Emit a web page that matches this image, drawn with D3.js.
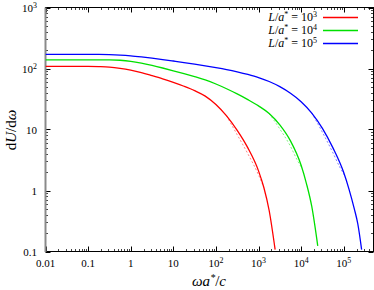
<!DOCTYPE html>
<html><head><meta charset="utf-8">
<script src="https://cdn.jsdelivr.net/npm/d3@7"></script>
<style>
body{margin:0;background:#fff}
svg{display:block}
text{font-family:"Liberation Serif","DejaVu Serif",serif;fill:#000}
</style>
</head><body>
<svg id="c" width="374" height="290"></svg>
<script>
// ---------- data ----------
const seriesExponents = ["3", "4", "5"];
const seriesColors = ["#ff0000", "#00e000", "#0000ff"];

const redOmega  = [0.01, 0.1, 0.178, 0.316, 0.562, 1, 1.78, 3.16, 5.62, 10, 17.8, 31.6, 56.2, 100, 178, 316, 562, 1000, 1334, 1778, 2455];
const redValues = [108, 108, 107.2, 105.4, 100.7, 94.0, 85.7, 76.4, 67.7, 59.3, 51.2, 43.4, 35.3, 25.7, 16.7, 9.66, 4.99, 2.10, 1.12, 0.47, 0.107];
const redDashOmega  = [178, 316, 562, 1000, 1250];
const redDashValues = [16.7, 8.2, 4.0, 1.8, 1.25];

const greenOmega  = [0.01, 0.1, 0.316, 0.562, 1, 1.78, 3.16, 5.62, 10, 17.8, 31.6, 56.2, 100, 178, 316, 562, 1000, 1778, 3162, 5623, 10000, 13335, 17783, 24547];
const greenValues = [139, 139, 139, 136.6, 131.2, 122.5, 112.3, 101.9, 91.8, 82.3, 73.4, 65.0, 55.7, 46.6, 38.3, 30.9, 24.4, 18.3, 11.9, 6.50, 2.59, 1.30, 0.547, 0.124];
const greenDashOmega  = [1778, 3162, 5623, 8000, 10500];
const greenDashValues = [18.3, 10.2, 5.3, 3.2, 2.3];

const blueOmega  = [0.01, 0.1, 0.178, 0.316, 0.562, 1, 1.78, 3.16, 5.62, 10, 17.8, 31.6, 56.2, 100, 178, 316, 562, 1000, 1778, 3162, 5623, 10000, 17783, 31623, 56234, 100000, 133352, 177828, 213796, 263027];
const blueValues = [170, 170, 170, 168.7, 165.8, 161.1, 154.7, 147.7, 140.3, 132.7, 125.3, 118.0, 110.8, 103.4, 95.9, 88.0, 79.8, 71.1, 61.2, 50.4, 39.3, 28.6, 18.6, 10.46, 4.95, 1.97, 1.046, 0.495, 0.285, 0.1076];
const blueDashOmega  = [17783, 31623, 56234, 80000, 105000];
const blueDashValues = [18.6, 9.0, 4.1, 2.45, 1.77];

const xTickValues = [0.01, 0.1, 1, 10, 100, 1000, 1e4, 1e5];
const xTickLabels = ["0.01", "0.1", "1", "10", "10^2", "10^3", "10^4", "10^5"];
const yTickValues = [0.1, 1, 10, 100, 1000];
const yTickLabels = ["0.1", "1", "10", "10^2", "10^3"];

const series = [
  {omega: redOmega, values: redValues, dOmega: redDashOmega, dValues: redDashValues},
  {omega: greenOmega, values: greenValues, dOmega: greenDashOmega, dValues: greenDashValues},
  {omega: blueOmega, values: blueValues, dOmega: blueDashOmega, dValues: blueDashValues}
];

// ---------- layout ----------
const L = 45.5, R = 373.5, T = 7.5, B = 251.5;
const svg = d3.select("#c");
const x = d3.scaleLog().domain([0.01, 5e5]).range([L, R]);
const y = d3.scaleLog().domain([0.1, 1000]).range([B, T]);

svg.append("clipPath").attr("id", "clip").append("rect")
  .attr("x", L).attr("y", T).attr("width", R - L).attr("height", B - T);

function minorTicks(scale) {
  const [a, b] = scale.domain();
  const out = [];
  for (let e = Math.floor(Math.log10(a)); e <= Math.ceil(Math.log10(b)); e++) {
    for (let m = 1; m <= 9; m++) {
      const v = m * Math.pow(10, e);
      if (v >= a * 0.999 && v <= b * 1.001) out.push({v, major: m === 1});
    }
  }
  return out;
}

function putLabel(sel, lab, fs) {
  const parts = lab.split("^");
  sel.append("tspan").text(parts[0]);
  if (parts.length > 1) sel.append("tspan").attr("dy", -4).attr("font-size", fs * 0.72).text(parts[1]);
}

// ticks
const g = svg.append("g");
minorTicks(x).forEach(t => {
  const px = Math.round(x(t.v)) + 0.5, len = t.major ? 5 : 2.5;
  const col = t.major ? "#000" : "#444";
  g.append("line").attr("x1", px).attr("x2", px).attr("y1", B).attr("y2", B - len).attr("stroke", col);
  g.append("line").attr("x1", px).attr("x2", px).attr("y1", T).attr("y2", T + len).attr("stroke", col);
});
minorTicks(y).forEach(t => {
  const py = Math.round(y(t.v)) + 0.5, len = t.major ? 5 : 2.5;
  const col = t.major ? "#000" : "#444";
  g.append("line").attr("y1", py).attr("y2", py).attr("x1", L).attr("x2", L + len).attr("stroke", col);
  g.append("line").attr("y1", py).attr("y2", py).attr("x1", R).attr("x2", R - len).attr("stroke", col);
});

// frame
svg.append("line").attr("x1", L - 0.5).attr("x2", 374).attr("y1", B).attr("y2", B).attr("stroke", "#000");
svg.append("line").attr("x1", L - 0.5).attr("x2", 374).attr("y1", T).attr("y2", T).attr("stroke", "#000");
svg.append("line").attr("x1", R).attr("x2", R).attr("y1", T).attr("y2", B).attr("stroke", "#000");
svg.append("line").attr("x1", L).attr("x2", L).attr("y1", T).attr("y2", B + 0.5).attr("stroke", "#8a8a8a").attr("stroke-width", 2);

// tick labels
xTickValues.forEach((v, i) => {
  const t = svg.append("text").attr("x", x(v)).attr("y", 267).attr("text-anchor", "middle").attr("font-size", 11);
  putLabel(t, xTickLabels[i], 11);
});
yTickValues.forEach((v, i) => {
  const t = svg.append("text").attr("x", 37).attr("y", y(v) + 4).attr("text-anchor", "end").attr("font-size", 11);
  putLabel(t, yTickLabels[i], 11);
});

// axis titles
const xt = svg.append("text").attr("x", 209).attr("y", 286).attr("text-anchor", "middle").attr("font-size", 15);
xt.append("tspan").attr("font-style", "italic").text("ωa");
xt.append("tspan").attr("font-style", "italic").attr("dy", -5).attr("font-size", 10).text("*");
xt.append("tspan").attr("dy", 5).text("/");
xt.append("tspan").attr("font-style", "italic").text("c");

const yt = svg.append("text").attr("transform", "translate(16,130) rotate(-90)").attr("text-anchor", "middle").attr("font-size", 15);
yt.append("tspan").text("d");
yt.append("tspan").attr("font-style", "italic").text("U");
yt.append("tspan").text("/d");
yt.append("tspan").attr("font-style", "italic").text("ω");

// curves
const line = d3.line().x(d => x(d[0])).y(d => y(d[1])).curve(d3.curveMonotoneX);
const plot = svg.append("g").attr("clip-path", "url(#clip)");
series.forEach((s, i) => {
  const dd = s.dOmega.map((w, k) => [w, s.dValues[k]]);
  plot.append("path").attr("d", line(dd)).attr("fill", "none")
    .attr("stroke", seriesColors[i]).attr("stroke-width", 0.8).attr("stroke-dasharray", "2,2").attr("opacity", 0.6);
});
series.forEach((s, i) => {
  const pts = s.omega.map((w, k) => [w, s.values[k]]);
  plot.append("path").attr("d", line(pts)).attr("fill", "none")
    .attr("stroke", seriesColors[i]).attr("stroke-width", 1.3);
});

// legend
seriesExponents.forEach((e, i) => {
  const ly = 17.5 + i * 13;
  const t = svg.append("text").attr("x", 317).attr("y", ly + 3.5).attr("text-anchor", "end").attr("font-size", 12);
  t.append("tspan").attr("font-style", "italic").text("L");
  t.append("tspan").text("/");
  t.append("tspan").attr("font-style", "italic").text("a");
  t.append("tspan").attr("dy", -4).attr("font-size", 8).text("*");
  t.append("tspan").attr("dy", 4).text(" = 10");
  t.append("tspan").attr("dy", -4).attr("font-size", 8).text(e);
  svg.append("line").attr("x1", 323).attr("x2", 358).attr("y1", ly).attr("y2", ly)
    .attr("stroke", seriesColors[i]).attr("stroke-width", 1.3);
});
</script>
</body></html>
